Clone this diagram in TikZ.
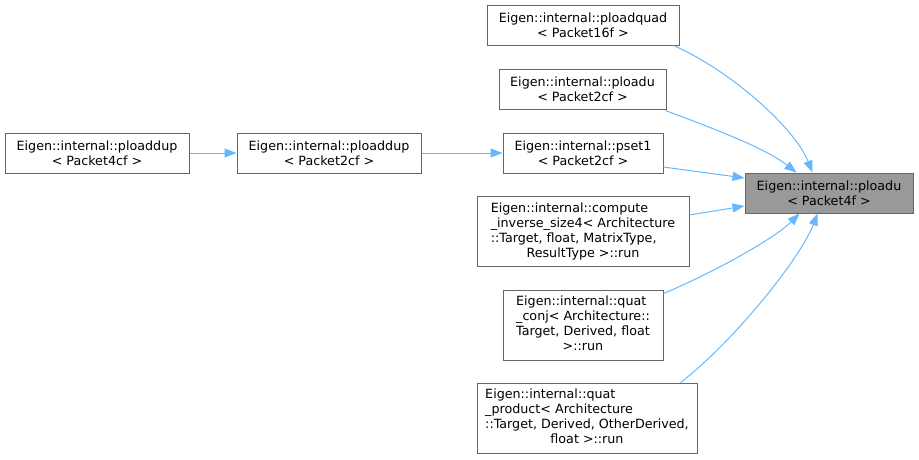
\documentclass[tikz,border=0pt]{standalone}
\usepackage{fontspec}
\setmainfont{DejaVu Sans}
\usetikzlibrary{arrows.meta,calc}
\definecolor{edgeblue}{HTML}{63B8FF}
\definecolor{boxborder}{HTML}{666666}
\definecolor{targetfill}{HTML}{999999}
\newcommand{\leftlines}[2]{\begin{tabular}{@{}l@{}}#1\\\multicolumn{1}{@{}c@{}}{#2}\end{tabular}}
\begin{document}
\begin{tikzpicture}[x=1pt,y=-1pt,
  box/.style={draw=boxborder, line width=1pt, fill=white, inner sep=0pt, align=center,
    font=\fontsize{12.7}{15}\selectfont, text=black},
  focus/.style={box, fill=targetfill},
  link/.style={draw=edgeblue, line width=1pt, -{Triangle[length=12pt,width=9pt]}}]
\useasboundingbox (0,0) rectangle (919,459);
% nodes
\node[focus, minimum width=168pt, minimum height=40pt] (target) at (829,193) {Eigen::internal::ploadu\\< Packet4f >};
\node[box, minimum width=192pt, minimum height=40pt] (quad) at (583,25) {Eigen::internal::ploadquad\\< Packet16f >};
\node[box, minimum width=167pt, minimum height=40pt] (pu2) at (582.5,89) {Eigen::internal::ploadu\\< Packet2cf >};
\node[box, minimum width=160pt, minimum height=40pt] (pset) at (583,153) {Eigen::internal::pset1\\< Packet2cf >};
\node[box, minimum width=212pt, minimum height=70pt] (inv) at (583,231.5) {\leftlines{Eigen::internal::compute\\\_inverse\_size4< Architecture\\::Target, float, MatrixType,}{ResultType >::run}};
\node[box, minimum width=160pt, minimum height=70pt] (conj) at (583,325) {\leftlines{Eigen::internal::quat\\\_conj< Architecture::\\Target, Derived, float}{>::run}};
\node[box, minimum width=220pt, minimum height=70pt] (prod) at (587,418) {\leftlines{Eigen::internal::quat\\\_product< Architecture\\::Target, Derived, OtherDerived,}{float >::run}};
\node[box, minimum width=184pt, minimum height=40pt] (dup4) at (97,153) {Eigen::internal::ploaddup\\< Packet4cf >};
\node[box, minimum width=184pt, minimum height=40pt] (dup2) at (329,153) {Eigen::internal::ploaddup\\< Packet2cf >};
% edges
\draw[link] (dup4.east) -- (dup2.west);
\draw[link] (dup2.east) -- (pset.west);
\draw[link] ($(quad.south east)+(-6,0)$) .. controls +(57,25) and +(-18,-45) .. ($(target.north west)+(68,0)$);
\draw[link] ($(pu2.south east)+(-1,1)$) .. controls +(45,17) and +(-32,-25) .. ($(target.north west)+(52,0)$);
\draw[link] ($(pset.east)+(0,14)$) -- ($(target.west)+(0,-15)$);
\draw[link] ($(inv.east)+(0,-16.5)$) -- ($(target.west)+(0,13)$);
\draw[link] ($(conj.north east)+(0,4)$) .. controls +(52,-22) and +(-25,25) .. ($(target.south west)+(55,0)$);
\draw[link] ($(prod.north east)+(-17,0)$) .. controls +(50,-38) and +(-18,47) .. ($(target.south west)+(73,0)$);
\end{tikzpicture}
\end{document}
